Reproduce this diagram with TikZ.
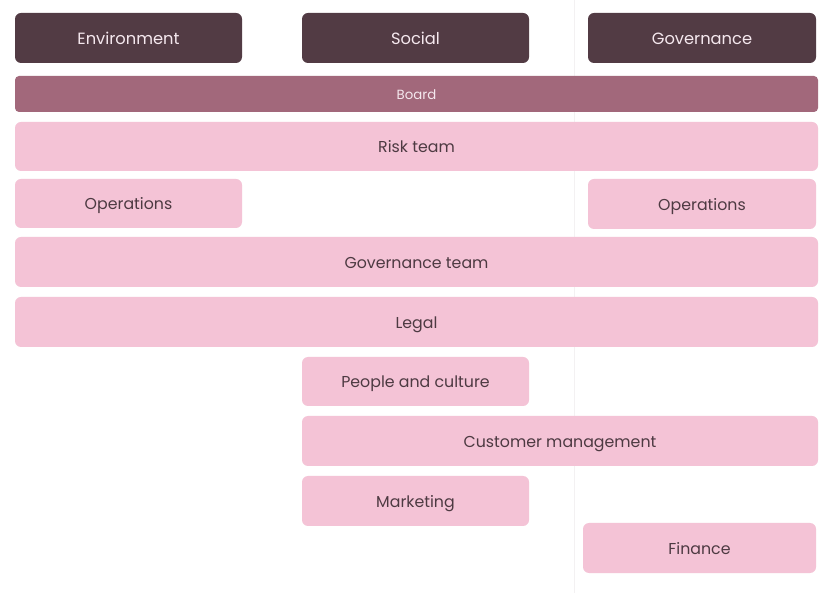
\documentclass[tikz,border=0pt]{standalone}
\usepackage{fontspec}
\setmainfont{Poppins}
\definecolor{darkbox}{HTML}{523B44}
\definecolor{boardc}{HTML}{A2687B}
\definecolor{pinkbox}{HTML}{F4C3D6}
\definecolor{pinktext}{HTML}{4D3A42}
\definecolor{lighttext}{HTML}{F5E8EE}
\definecolor{gridc}{HTML}{F3F1F2}
\begin{document}
\begin{tikzpicture}[x=1pt,y=-1pt,
  box/.style={rounded corners=6pt, inner sep=0pt, draw=none, anchor=center, text depth=0pt},
  topbox/.style={box, fill=darkbox, text=lighttext, font=\fontsize{16.3}{18}\selectfont, text height=13pt},
  boardbox/.style={box, fill=boardc, text=lighttext, font=\fontsize{13.3}{15}\selectfont, rounded corners=4pt, text height=10.5pt},
  unitbox/.style={box, fill=pinkbox, text=pinktext, font=\fontsize{15.8}{18}\selectfont, text height=12.8pt}]
\useasboundingbox[fill=white] (0,0) rectangle (828,593);
\draw[gridc, line width=0.8pt] (574,0) -- (574,593);
\node[topbox, minimum width=227pt, minimum height=50pt] (env) at (128.5,38) {Environment};
\node[topbox, minimum width=227pt, minimum height=50pt] (soc) at (415.5,38) {Social};
\node[topbox, minimum width=228pt, minimum height=50pt] (gov) at (702,38) {Governance};
\node[boardbox, minimum width=803pt, minimum height=36pt] (board) at (416.5,94) {Board};
\node[unitbox, minimum width=803pt, minimum height=49pt] (risk) at (416.5,146.5) {Risk team};
\node[unitbox, minimum width=227pt, minimum height=49pt] (opsl) at (128.5,203.5) {Operations};
\node[unitbox, minimum width=228pt, minimum height=50pt] (opsr) at (702,204) {Operations};
\node[unitbox, minimum width=803pt, minimum height=50pt] (govteam) at (416.5,262) {Governance team};
\node[unitbox, minimum width=803pt, minimum height=50pt] (legal) at (416.5,322) {Legal};
\node[unitbox, minimum width=227pt, minimum height=49pt] (people) at (415.5,381.5) {People and culture};
\node[unitbox, minimum width=516pt, minimum height=50pt] (cust) at (560,441) {Customer management};
\node[unitbox, minimum width=227pt, minimum height=50pt] (mkt) at (415.5,501) {Marketing};
\node[unitbox, minimum width=233pt, minimum height=50pt] (fin) at (699.5,548) {Finance};
\end{tikzpicture}
\end{document}
